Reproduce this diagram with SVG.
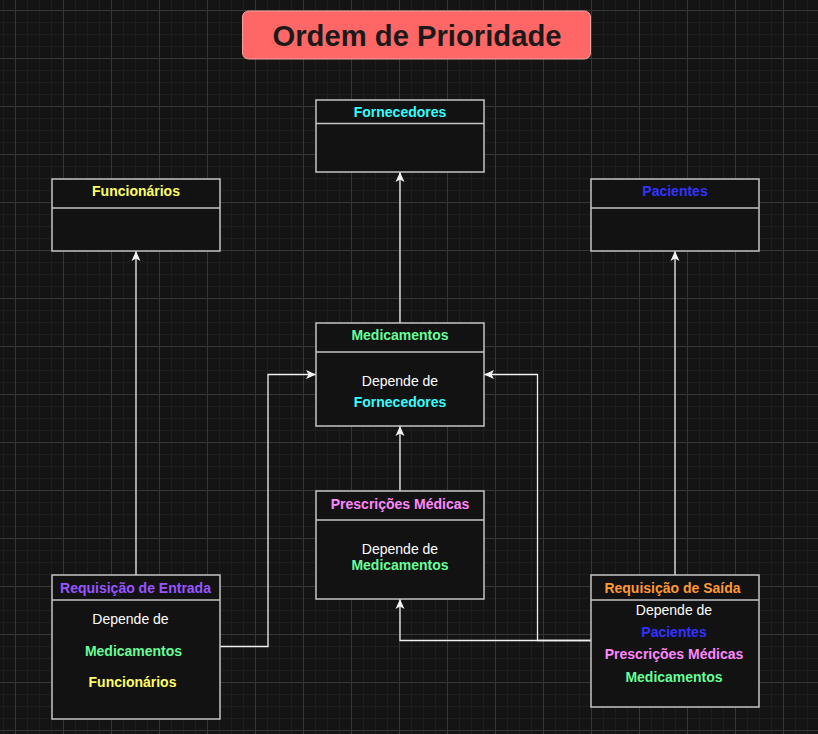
<svg xmlns="http://www.w3.org/2000/svg" width="818" height="734" viewBox="0 0 818 734">
<defs>
<pattern id="grid" x="15" y="10" width="48" height="48" patternUnits="userSpaceOnUse">
<rect width="48" height="48" fill="#141414"/>
<g fill="#1e1e1e">
<rect x="12" y="0" width="1" height="48"/><rect x="24" y="0" width="1" height="48"/><rect x="36" y="0" width="1" height="48"/>
<rect x="0" y="12" width="48" height="1"/><rect x="0" y="24" width="48" height="1"/><rect x="0" y="36" width="48" height="1"/>
</g>
<g fill="#363636">
<rect x="0" y="0" width="1" height="48"/><rect x="0" y="0" width="48" height="1"/>
</g>
</pattern>
<marker id="arr" viewBox="0 0 10 10" refX="10" refY="5" markerWidth="10" markerHeight="10" markerUnits="userSpaceOnUse" orient="auto">
<path d="M0,0.5 L10,5 L0,9.5 L2.5,5 Z" fill="#f2f2f2"/>
</marker>
<style>
.box{fill:#121212;stroke:#c4c4c4;stroke-width:1.5}
.div{stroke:#c4c4c4;stroke-width:1.5}
.t{font-family:"Liberation Sans",Arial,sans-serif;font-size:14px;text-anchor:middle}
.b{font-weight:bold}
.w{fill:#ffffff}
.cy{fill:#33ffff}.ye{fill:#ffff66}.bl{fill:#3333ff}.gr{fill:#66ff99}.pk{fill:#ff88ff}.pu{fill:#9955ff}.or{fill:#ff9933}
.c{fill:none;stroke:#f0f0f0;stroke-width:1.3;marker-end:url(#arr)}
</style>
</defs>
<rect width="818" height="734" fill="url(#grid)"/>

<g id="title">
<rect x="242.5" y="11" width="348" height="48" rx="6" fill="#ff6666" stroke="#f4a3a3" stroke-width="1"/>
<text x="417" y="45.5" font-family="'Liberation Sans',Arial,sans-serif" font-size="29" font-weight="bold" fill="#1a1a1a" text-anchor="middle" textLength="289" lengthAdjust="spacingAndGlyphs">Ordem de Prioridade</text>
</g>

<g id="connectors">
<path class="c" d="M400,323 V172"/>
<path class="c" d="M400,491 V426"/>
<path class="c" d="M136,575 V251"/>
<path class="c" d="M675,575 V251"/>
<path class="c" d="M220,646.5 H268 V374.5 H316"/>
<path class="c" d="M591,640.5 H537.5 V374.5 H484"/>
<path class="c" d="M591,640.5 H400 V599"/>
</g>

<g id="fornecedores">
<rect class="box" x="316" y="100" width="168" height="72"/>
<line class="div" x1="316" y1="123.5" x2="484" y2="123.5"/>
<text class="t b cy" x="400" y="117">Fornecedores</text>
</g>

<g id="funcionarios">
<rect class="box" x="52" y="179" width="168" height="72"/>
<line class="div" x1="52" y1="208" x2="220" y2="208"/>
<text class="t b ye" x="136" y="196">Funcionários</text>
</g>

<g id="pacientes">
<rect class="box" x="591" y="179" width="168" height="72"/>
<line class="div" x1="591" y1="208" x2="759" y2="208"/>
<text class="t b bl" x="675" y="196">Pacientes</text>
</g>

<g id="medicamentos">
<rect class="box" x="316" y="323" width="168" height="103"/>
<line class="div" x1="316" y1="352" x2="484" y2="352"/>
<text class="t b gr" x="400" y="340">Medicamentos</text>
<text class="t w" x="400" y="385.5">Depende de</text>
<text class="t b cy" x="400" y="406.5">Fornecedores</text>
</g>

<g id="prescricoes">
<rect class="box" x="316" y="491" width="168" height="108"/>
<line class="div" x1="316" y1="520" x2="484" y2="520"/>
<text class="t b pk" x="400" y="508.5">Prescrições Médicas</text>
<text class="t w" x="400" y="553.5">Depende de</text>
<text class="t b gr" x="400" y="570">Medicamentos</text>
</g>

<g id="requisicao-entrada">
<rect class="box" x="52" y="575" width="168" height="144"/>
<line class="div" x1="52" y1="600" x2="220" y2="600"/>
<text class="t b pu" x="135.5" y="592.5">Requisição de Entrada</text>
<text class="t w" x="130.5" y="624">Depende de</text>
<text class="t b gr" x="133.5" y="656">Medicamentos</text>
<text class="t b ye" x="132.5" y="687">Funcionários</text>
</g>

<g id="requisicao-saida">
<rect class="box" x="591" y="575" width="168" height="132"/>
<line class="div" x1="591" y1="600" x2="759" y2="600"/>
<text class="t b or" x="672.5" y="592.5">Requisição de Saída</text>
<text class="t w" x="674" y="614.5">Depende de</text>
<text class="t b bl" x="674" y="637">Pacientes</text>
<text class="t b pk" x="674" y="658.5">Prescrições Médicas</text>
<text class="t b gr" x="674" y="681.5">Medicamentos</text>
</g>
</svg>
